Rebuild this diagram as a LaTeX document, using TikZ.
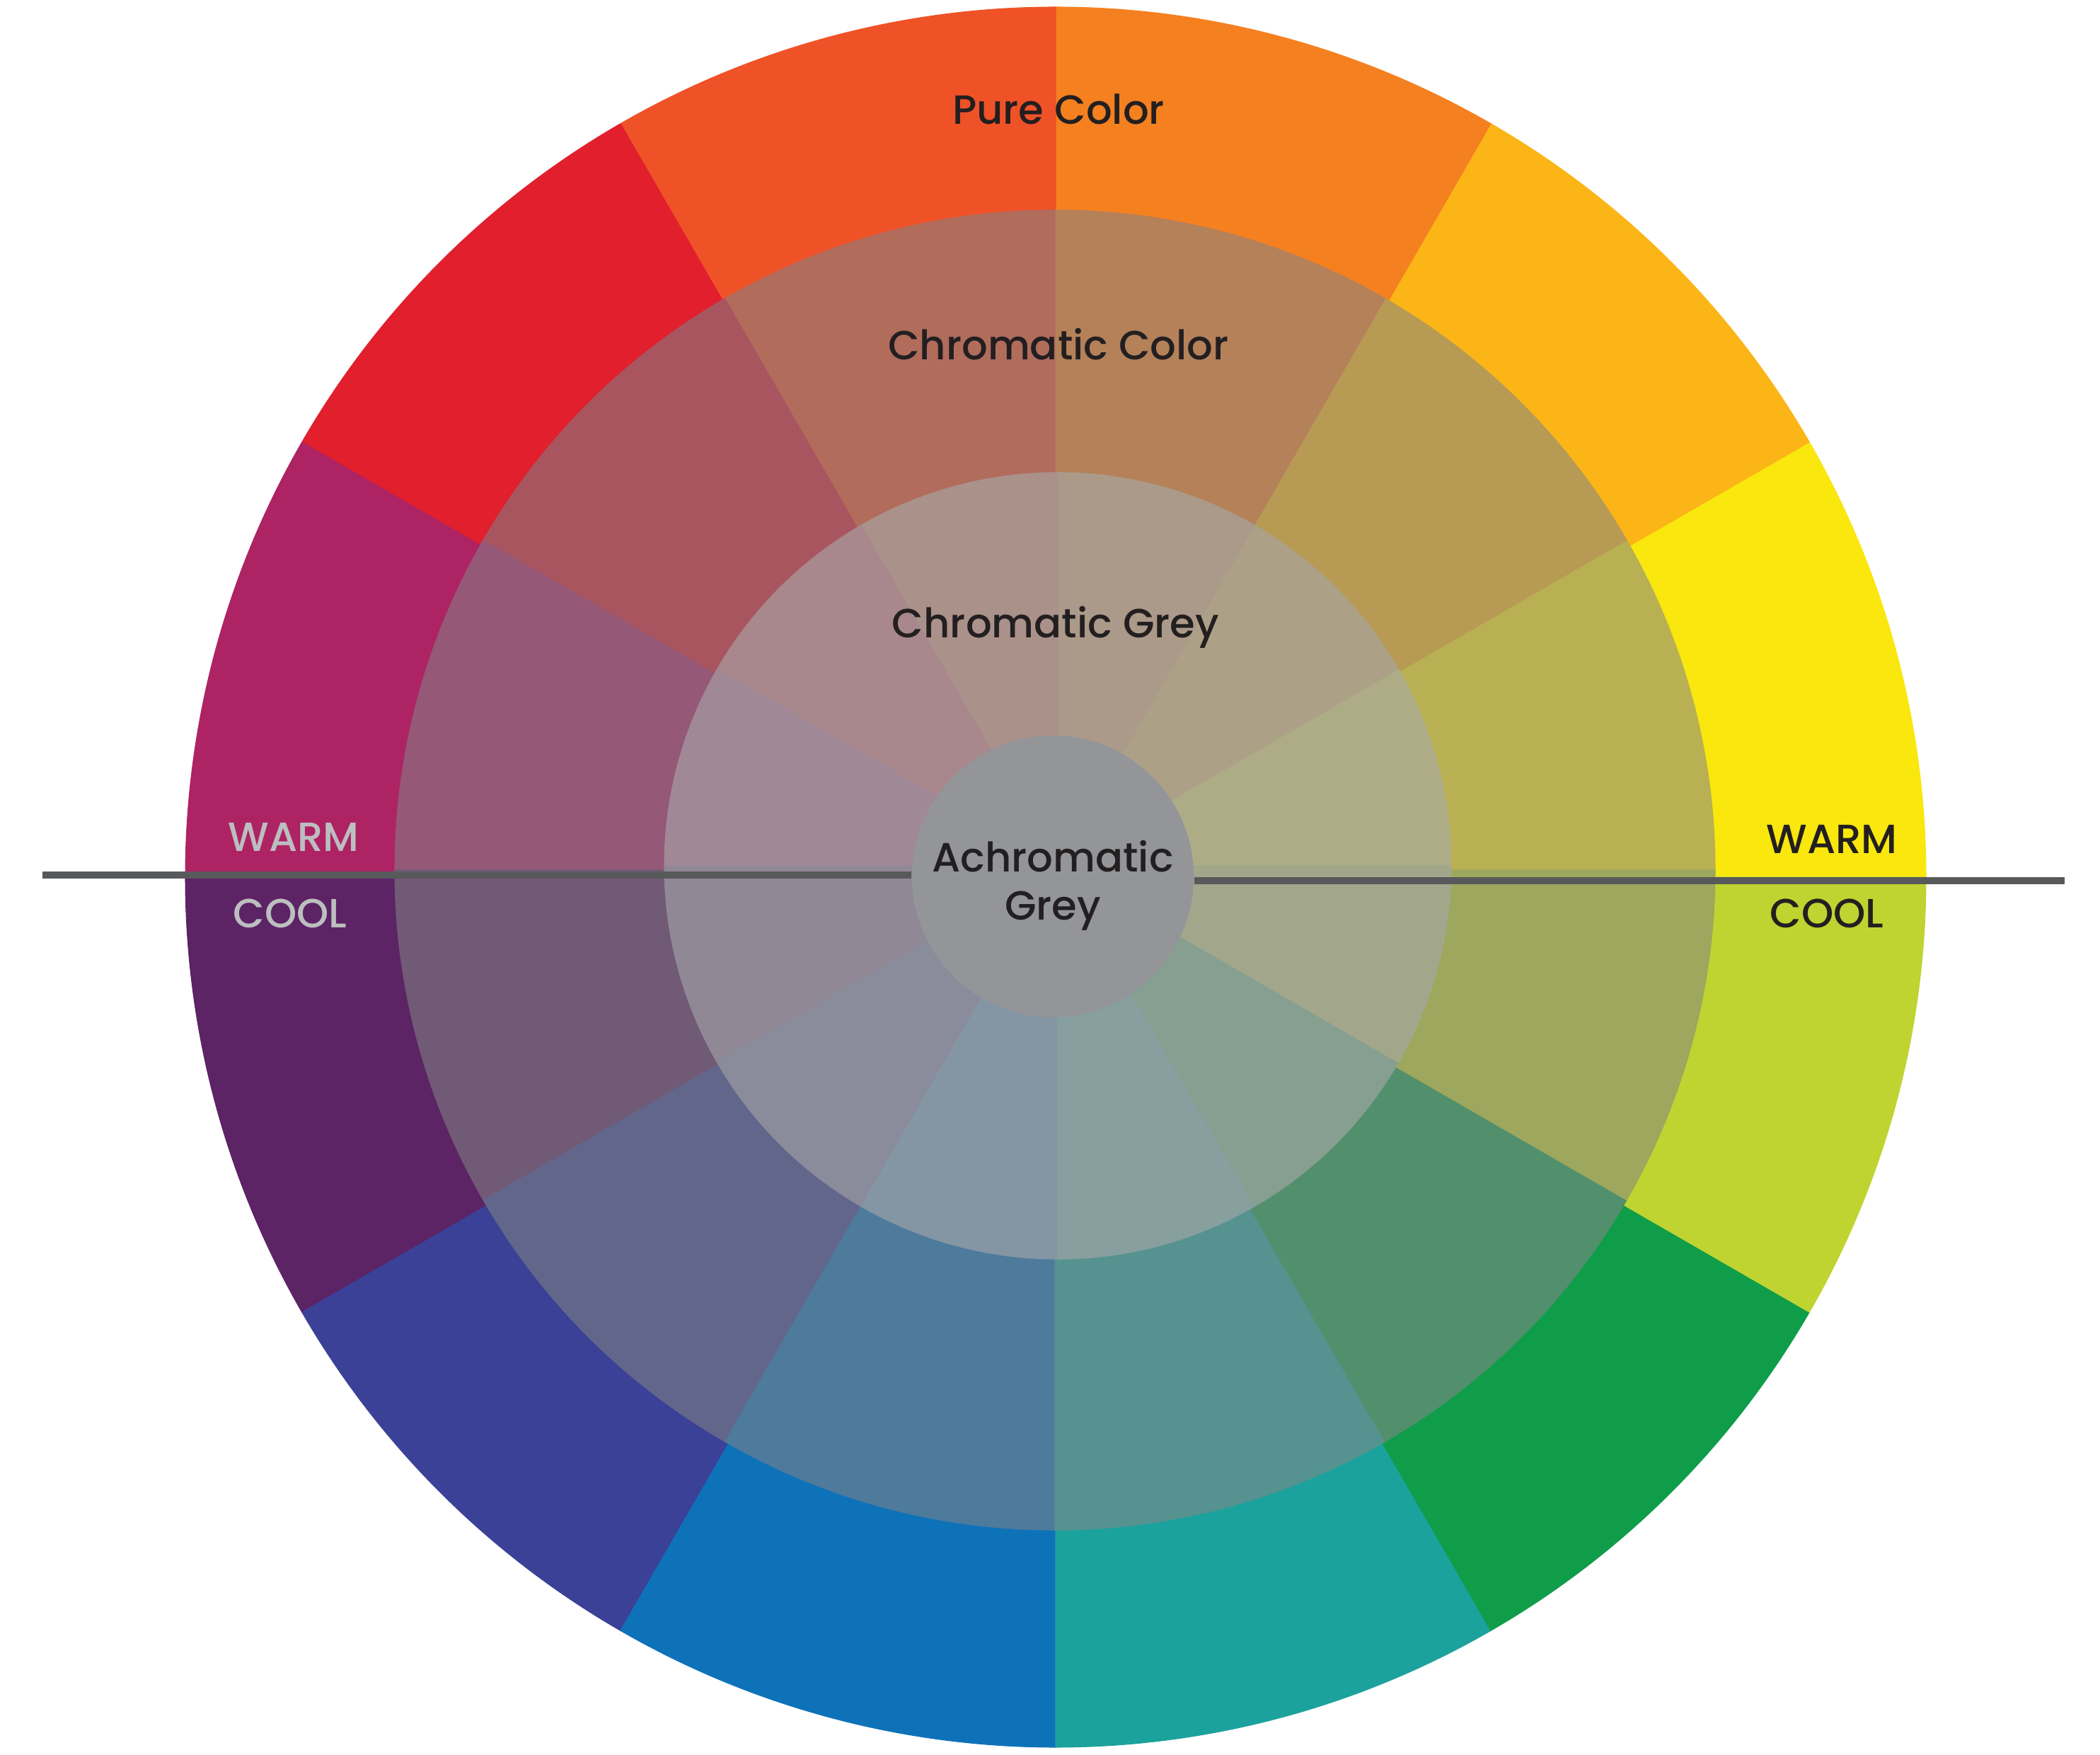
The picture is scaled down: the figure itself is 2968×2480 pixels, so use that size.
\documentclass[tikz,border=0pt]{standalone}
\usepackage{fontspec}
\setmainfont{Poppins}[UprightFont={* Medium}]
\usetikzlibrary{positioning}
% pure colours, counterclockwise from 0 deg
\definecolor{pure0}{RGB}{249,231,14}
\definecolor{pure1}{RGB}{251,181,22}
\definecolor{pure2}{RGB}{245,128,32}
\definecolor{pure3}{RGB}{240,82,40}
\definecolor{pure4}{RGB}{225,31,45}
\definecolor{pure5}{RGB}{174,35,99}
\definecolor{pure6}{RGB}{92,35,101}
\definecolor{pure7}{RGB}{59,65,150}
\definecolor{pure8}{RGB}{14,114,185}
\definecolor{pure9}{RGB}{28,162,157}
\definecolor{pure10}{RGB}{15,157,74}
\definecolor{pure11}{RGB}{191,212,48}
% chromatic colours
\definecolor{chro0}{RGB}{184,176,82}
\definecolor{chro1}{RGB}{183,154,84}
\definecolor{chro2}{RGB}{180,129,89}
\definecolor{chro3}{RGB}{177,108,92}
\definecolor{chro4}{RGB}{169,85,95}
\definecolor{chro5}{RGB}{149,88,119}
\definecolor{chro6}{RGB}{113,90,117}
\definecolor{chro7}{RGB}{99,102,139}
\definecolor{chro8}{RGB}{78,122,156}
\definecolor{chro9}{RGB}{86,146,143}
\definecolor{chro10}{RGB}{82,143,108}
\definecolor{chro11}{RGB}{157,167,93}
% chromatic greys
\definecolor{cgry0}{RGB}{174,172,135}
\definecolor{cgry1}{RGB}{172,161,134}
\definecolor{cgry2}{RGB}{171,154,137}
\definecolor{cgry3}{RGB}{170,145,138}
\definecolor{cgry4}{RGB}{168,135,141}
\definecolor{cgry5}{RGB}{161,136,150}
\definecolor{cgry6}{RGB}{145,136,150}
\definecolor{cgry7}{RGB}{138,139,155}
\definecolor{cgry8}{RGB}{132,150,164}
\definecolor{cgry9}{RGB}{135,159,158}
\definecolor{cgry10}{RGB}{134,159,144}
\definecolor{cgry11}{RGB}{162,167,140}
\definecolor{achrog}{RGB}{147,149,153}
\definecolor{inkdark}{RGB}{35,31,32}
\definecolor{inklight}{RGB}{188,190,192}
\definecolor{lineg}{RGB}{88,89,91}
\tikzset{
  wedge/.style={fill=#1, draw=#1, line width=0.3pt},
  lbl/.style={font=\fontsize{16.4}{19.4}\selectfont, text=inkdark, anchor=base, inner sep=0pt},
  lbllight/.style={lbl, text=inklight},
  achro/.style={circle, fill=achrog, minimum size=3.98cm, inner sep=0pt},
  divider/.style={lineg, line width=0.1cm},
}

\begin{document}
\begin{tikzpicture}[x=0.01cm, y=0.01cm]
  \useasboundingbox (0,0) rectangle (2968,2480);
  \coordinate (O1) at (1492,1240);
  \coordinate (O2) at (1491,1250);
  \coordinate (O3) at (1495,1256);
  % three rings of wedges
  \foreach \i in {0,...,11}{
    \fill[wedge=pure\i] (O1) -- ++(\i*30:1230) arc[start angle=\i*30, end angle=\i*30+30, radius=1230] -- cycle;}
  \foreach \i in {0,...,11}{
    \fill[wedge=chro\i] (O2) -- ++(\i*30:933) arc[start angle=\i*30, end angle=\i*30+30, radius=933] -- cycle;}
  \foreach \i in {0,...,11}{
    \fill[wedge=cgry\i] (O3) -- ++(\i*30:556) arc[start angle=\i*30, end angle=\i*30+30, radius=556] -- cycle;}
  % centre and warm/cool divider
  \node[achro] (achro) at (1488,1241) {};
  \coordinate (divL) at (60,1243);
  \coordinate (divR) at (2918,1235);
  \draw[divider] (divL) -- (divL -| achro.west);
  \draw[divider] (divR -| achro.east) -- (divR);
  % labels
  \node[lbl, anchor=center, align=center] (achrotxt) at ([yshift=-0.13cm]achro.center) {Achromatic\\Grey};
  \node[lbl] (pure) at (1496,2304) {Pure Color};
  \node[lbl] (chromc) at (1496,1971) {Chromatic Color};
  \node[lbl] (chromg) at (1492,1578) {Chromatic Grey};
  \node[lbllight] (warmL) at (415,1276) {WARM};
  \node[lbllight] (coolL) at (410,1168) {COOL};
  \node[lbl] (warmR) at (2589,1273) {WARM};
  \node[lbl] (coolR) at (2582,1168) {COOL};
\end{tikzpicture}
\end{document}
